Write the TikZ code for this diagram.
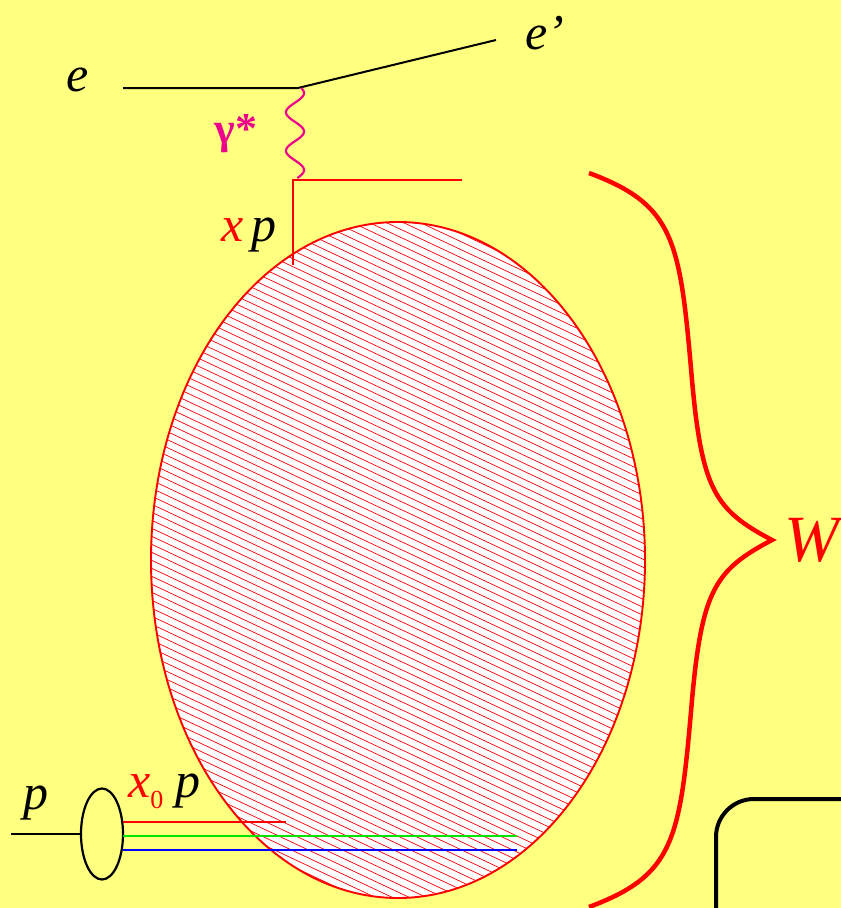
\documentclass[tikz,border=0pt]{standalone}
\usepackage{fontspec}
\setmainfont{Liberation Serif}
\newfontfamily\tms{Liberation Serif}
\usetikzlibrary{calc,shapes.geometric}
\definecolor{bgyellow}{RGB}{255,255,128}
\definecolor{lgreen}{RGB}{0,230,0}
\begin{document}
\begin{tikzpicture}[x=1pt,y=-1pt,
  lbl/.style={inner sep=0pt,font=\tms\fontsize{50}{60}\selectfont\itshape},
  thinred/.style={draw=red,line width=1.8pt},
  fermion/.style={draw=black,line width=2pt},
  quark/.style={line width=2.3pt}]
\fill[bgyellow] (0,0) rectangle (841,908);
\useasboundingbox (0,0) rectangle (841,908);
% coordinates
\coordinate (ein) at (123,88);
\coordinate (vtx) at (298,88);
\coordinate (eout) at (496,40);
\coordinate (qtop) at (293,180);
\coordinate (qend) at (462,180);
\coordinate (qbot) at (293,265);
% blob
\coordinate (blobc) at (398,560);
\begin{scope}
  \clip (blobc) ellipse [x radius=247, y radius=338];
  \fill[white] (blobc) ellipse [x radius=247, y radius=338];
  \foreach \k in {-400,-392,...,1200}{
    \draw[red,line width=0.7pt] (100,\k) -- (700,\k+282);
  }
\end{scope}
\draw[red,line width=1.9pt] (blobc) ellipse [x radius=247, y radius=338];
% electron lines
\draw[fermion] (ein) -- (vtx) -- (eout);
% photon
\draw[magenta,line width=2.2pt,smooth,samples=90,domain=0:90]
  plot ({295+9*sin(9.351*\x+43)},{88+\x});
% struck quark
\draw[thinred] (qbot) -- (qtop) -- (qend);
% labels
\node[lbl] (le) at (78,80) {e};
\node[lbl] (leprime) at (545,33) {e’};
\node[inner sep=0pt,text=magenta,font=\tms\fontsize{44}{50}\selectfont\bfseries] (lgam) at (236,134) {γ*};
\node[lbl,anchor=base west] (lxp) at (221,241) {\textcolor{red}{x}\,p};
% proton
\node[draw=black,line width=2.2pt,ellipse,minimum width=42pt,minimum height=91pt,inner sep=0pt] (prot) at (102,834) {};
\coordinate (pin) at (11,834);
\draw[fermion] (pin) -- (prot.west);
\coordinate (r0) at (123,822);
\coordinate (r1) at (286,822);
\coordinate (g0) at (123,836);
\coordinate (g1) at (517,836);
\coordinate (b0) at (123,850);
\coordinate (b1) at (517,850);
\draw[quark,red] (r0) -- (r1);
\draw[quark,lgreen] (g0) -- (g1);
\draw[quark,blue] (b0) -- (b1);
\node[lbl] (lp) at (36,803) {p};
\node[lbl,anchor=base west] (lx0p) at (128,797) {\textcolor{red}{x\raisebox{-11pt}{\fontsize{26}{30}\selectfont\upshape 0}}\hspace{12pt}p};
% brace
\draw[red,line width=4.5pt]
  (589,173) .. controls (675,205) and (680,240) .. (692,380)
  .. controls (702,490) and (715,510) .. (772,540)
  .. controls (715,570) and (702,590) .. (692,700)
  .. controls (680,840) and (675,875) .. (589,907);
\node[inner sep=0pt,text=red,font=\tms\fontsize{66}{76}\selectfont\itshape,anchor=west] (lW) at (784,540) {W};
% rounded box
\draw[black,line width=4pt,rounded corners=38pt] (716,930) -- (716,799) -- (900,799);
\end{tikzpicture}
\end{document}
